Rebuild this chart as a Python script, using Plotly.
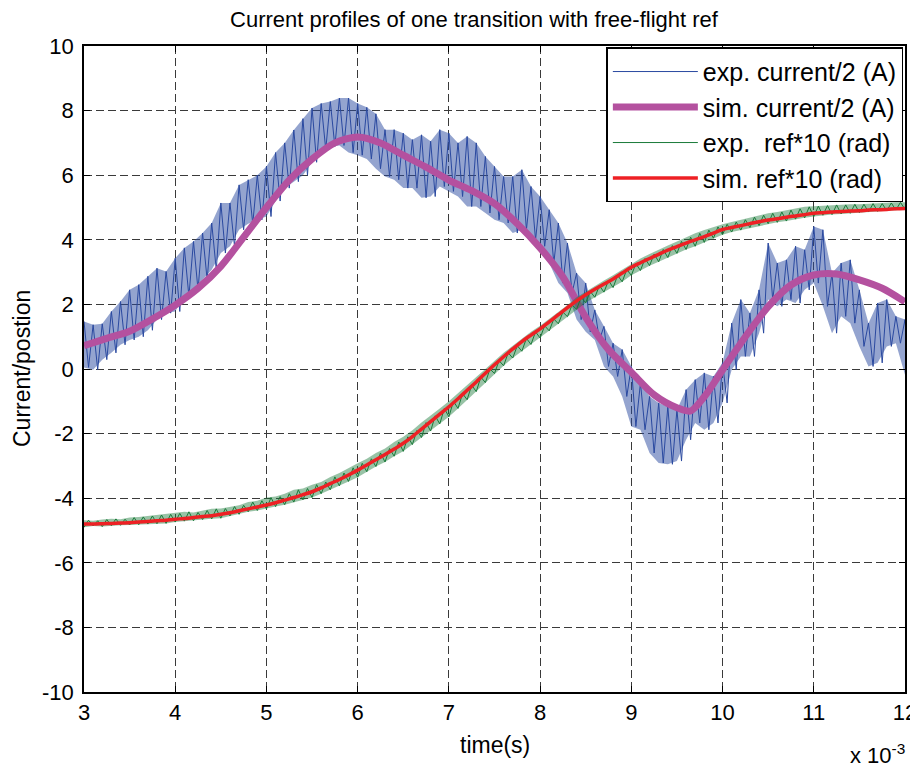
import plotly.graph_objects as go

# time grid in units of 1e-3 s
t_grid = [round(3.0 + 0.1 * i, 2) for i in range(91)]

exp_current_hi = [
    1.47, 1.37, 1.40, 1.78, 2.09, 2.45, 2.61, 2.87, 3.12, 3.02,
    3.43, 3.75, 3.95, 4.21, 4.52, 5.14, 5.14, 5.70, 5.86, 6.00,
    6.27, 6.70, 7.00, 7.40, 7.75, 8.08, 8.22, 8.28, 8.39, 8.39,
    8.22, 8.10, 7.90, 7.41, 7.41, 7.30, 7.10, 7.25, 7.05, 7.41,
    7.30, 7.00, 7.20, 7.00, 6.58, 6.27, 5.96, 5.96, 6.17, 5.65,
    5.34, 4.93, 4.52, 3.90, 2.97, 2.66, 1.83, 1.32, 0.80, 0.60,
    0.08, -0.43, -0.85, -1.05, -1.16, -1.26, -0.64, -0.33, -0.12, -0.23,
    0.20, 1.42, 2.15, 1.73, 2.45, 3.90, 3.28, 3.38, 3.80, 3.69,
    4.41, 4.31, 2.97, 3.28, 3.38, 2.45, 1.42, 2.04, 2.15, 1.63,
    1.53,
]
exp_current_lo = [
    0.05, -0.02, 0.29, 0.50, 0.75, 0.90, 1.00, 1.20, 1.53, 1.73,
    1.78, 2.25, 2.45, 2.76, 3.07, 3.59, 3.80, 4.31, 4.50, 4.62,
    4.72, 5.20, 5.60, 5.80, 6.00, 6.40, 6.80, 6.89, 6.92, 6.70,
    6.62, 6.50, 6.20, 5.96, 5.86, 5.60, 5.60, 5.30, 5.34, 5.65,
    5.50, 5.34, 5.03, 5.03, 4.83, 4.62, 4.52, 4.21, 4.31, 4.00,
    3.80, 3.28, 2.66, 2.35, 1.53, 1.15, 0.90, 0.08, -0.23, -0.85,
    -1.78, -1.88, -2.60, -2.91, -2.95, -2.85, -2.19, -1.67, -1.88, -1.67,
    -1.05, -0.02, 0.39, 0.39, 1.11, 2.15, 1.94, 2.15, 2.04, 2.45,
    2.66, 1.94, 1.11, 1.63, 1.42, 0.70, 0.08, 0.19, 0.70, 0.80,
    -0.18,
]

sim_t = [3.0, 3.25, 3.5, 3.75, 4.0, 4.25, 4.5, 4.75, 5.0, 5.25, 5.5, 5.75,
         6.0, 6.25, 6.5, 6.75, 7.0, 7.25, 7.5, 7.75, 8.0, 8.25, 8.5, 8.75,
         9.0, 9.25, 9.5, 9.65, 9.8, 10.0, 10.25, 10.5, 10.75, 11.0, 11.25,
         11.5, 11.75, 12.0]
sim_current = [0.72, 0.95, 1.17, 1.55, 1.98, 2.50, 3.18, 4.08, 5.00, 5.85,
               6.50, 7.00, 7.18, 7.00, 6.62, 6.25, 5.85, 5.52, 5.12, 4.50,
               3.75, 2.85, 1.60, 0.60, -0.10, -0.80, -1.20, -1.30, -0.86,
               -0.03, 1.00, 1.93, 2.60, 2.91, 2.94, 2.76, 2.50, 2.08]

sim_ref = [
    -4.80, -4.80, -4.79, -4.78, -4.77, -4.76, -4.74, -4.72, -4.70, -4.68,
    -4.65, -4.63, -4.60, -4.57, -4.54, -4.50, -4.45, -4.39, -4.33, -4.27,
    -4.21, -4.14, -4.06, -3.98, -3.89, -3.80, -3.68, -3.55, -3.42, -3.28,
    -3.13, -2.97, -2.81, -2.65, -2.48, -2.30, -2.09, -1.86, -1.63, -1.40,
    -1.17, -0.92, -0.66, -0.40, -0.13, 0.13, 0.38, 0.62, 0.85, 1.05,
    1.24, 1.46, 1.68, 1.90, 2.11, 2.30, 2.47, 2.63, 2.79, 2.97,
    3.15, 3.29, 3.42, 3.55, 3.68, 3.79, 3.90, 4.00, 4.10, 4.21,
    4.32, 4.38, 4.44, 4.50, 4.56, 4.61, 4.65, 4.70, 4.74, 4.78,
    4.82, 4.84, 4.86, 4.88, 4.89, 4.90, 4.92, 4.93, 4.94, 4.96,
    4.97,
]

exp_ref_hi = [
    -4.68, -4.70, -4.66, -4.64, -4.65, -4.60, -4.58, -4.55, -4.52, -4.50,
    -4.47, -4.42, -4.44, -4.38, -4.33, -4.32, -4.26, -4.22, -4.12, -4.08,
    -3.98, -3.95, -3.86, -3.74, -3.70, -3.58, -3.50, -3.34, -3.22, -3.06,
    -2.92, -2.78, -2.60, -2.46, -2.26, -2.10, -1.90, -1.66, -1.45, -1.22,
    -1.00, -0.76, -0.50, -0.25, 0.00, 0.26, 0.50, 0.72, 0.95, 1.15,
    1.34, 1.55, 1.76, 1.98, 2.22, 2.40, 2.58, 2.74, 2.90, 3.08,
    3.26, 3.42, 3.56, 3.70, 3.82, 3.95, 4.08, 4.20, 4.30, 4.40,
    4.48, 4.55, 4.62, 4.70, 4.76, 4.82, 4.86, 4.92, 4.96, 5.02,
    5.04, 5.06, 5.08, 5.08, 5.10, 5.10, 5.12, 5.12, 5.14, 5.16,
    5.16,
]
exp_ref_lo = [
    -4.90, -4.86, -4.88, -4.85, -4.84, -4.83, -4.82, -4.80, -4.79, -4.78,
    -4.74, -4.71, -4.70, -4.66, -4.64, -4.62, -4.55, -4.50, -4.42, -4.38,
    -4.33, -4.26, -4.20, -4.12, -4.05, -3.98, -3.86, -3.74, -3.62, -3.48,
    -3.35, -3.18, -3.02, -2.88, -2.70, -2.55, -2.34, -2.12, -1.92, -1.70,
    -1.48, -1.22, -0.95, -0.70, -0.42, -0.14, 0.10, 0.34, 0.55, 0.76,
    0.96, 1.18, 1.40, 1.62, 1.85, 2.05, 2.22, 2.38, 2.52, 2.70,
    2.90, 3.05, 3.20, 3.32, 3.45, 3.58, 3.70, 3.80, 3.92, 4.05,
    4.16, 4.24, 4.30, 4.38, 4.44, 4.50, 4.54, 4.58, 4.64, 4.68,
    4.72, 4.76, 4.78, 4.80, 4.82, 4.84, 4.86, 4.88, 4.90, 4.92,
    4.94,
]

x_ticks = [3, 4, 5, 6, 7, 8, 9, 10, 11, 12]
y_ticks = [-10, -8, -6, -4, -2, 0, 2, 4, 6, 8, 10]


def zigzag(ts, first, second, dt):
    xs, ys = [], []
    for t, a, b in zip(ts, first, second):
        xs += [t, t + dt]
        ys += [a, b]
    return xs, ys


FONT = "Liberation Sans, Arial, Helvetica, sans-serif"
BLUE = "#2a49a0"
GREEN = "#1a7a39"

fig = go.Figure()

# band shading of the fast oscillation (exp. current)
fig.add_trace(go.Scatter(x=t_grid, y=exp_current_lo, mode="lines", line=dict(width=0),
                         showlegend=False, hoverinfo="skip"))
fig.add_trace(go.Scatter(x=t_grid, y=exp_current_hi, mode="lines", line=dict(width=0),
                         fill="tonexty", fillcolor="rgba(42,73,160,0.50)",
                         showlegend=False, hoverinfo="skip"))
bx, by = zigzag(t_grid, exp_current_hi, exp_current_lo, 0.05)
fig.add_trace(go.Scatter(x=bx, y=by, mode="lines", name="exp. current/2 (A)",
                         line=dict(color=BLUE, width=1)))
fig.add_trace(go.Scatter(x=sim_t, y=sim_current, mode="lines",
                         name="sim. current/2 (A)",
                         line=dict(color="#b4519f", width=7, shape="spline", smoothing=0.8)))
fig.add_trace(go.Scatter(x=t_grid, y=exp_ref_lo, mode="lines", line=dict(width=0),
                         showlegend=False, hoverinfo="skip"))
fig.add_trace(go.Scatter(x=t_grid, y=exp_ref_hi, mode="lines", line=dict(width=0),
                         fill="tonexty", fillcolor="rgba(26,122,57,0.45)",
                         showlegend=False, hoverinfo="skip"))
gx, gy = zigzag(t_grid, exp_ref_lo, exp_ref_hi, 0.05)
fig.add_trace(go.Scatter(x=gx, y=gy, mode="lines", name="exp.  ref*10 (rad)",
                         line=dict(color=GREEN, width=1)))
fig.add_trace(go.Scatter(x=t_grid, y=sim_ref, mode="lines", name="sim. ref*10 (rad)",
                         line=dict(color="#ee2024", width=3.5, shape="spline")))

axis_common = dict(
    showline=True, linecolor="black", linewidth=1.5, mirror="ticks",
    ticks="inside", ticklen=6, tickcolor="black",
    showgrid=True, gridcolor="#3a3a3a", gridwidth=1, griddash="8px,4px",
    zeroline=False, tickfont=dict(family=FONT, size=22, color="black"),
)

fig.update_xaxes(range=[3, 12], tickvals=x_ticks, ticktext=[str(v) for v in x_ticks],
                 **axis_common)
fig.update_yaxes(range=[-10, 10], tickvals=y_ticks, ticktext=[str(v) for v in y_ticks],
                 ticklabelstandoff=4, **axis_common)

W, H = 910, 761
fig.update_layout(
    width=W, height=H,
    margin=dict(l=76, r=13, t=38, b=77, autoexpand=False),
    paper_bgcolor="white", plot_bgcolor="white",
    font=dict(family=FONT, color="black"),
    showlegend=True,
    title=dict(text="Current profiles of one transition with free-flight ref",
               x=0.475, xref="paper", xanchor="center",
               y=1 - 11 / H, yref="container", yanchor="middle",
               font=dict(family=FONT, size=22, color="black")),
    legend=dict(x=0.998, y=0.998, xanchor="right", yanchor="top",
                bgcolor="white", bordercolor="black", borderwidth=1.5,
                font=dict(family=FONT, size=25, color="black"),
                itemwidth=85, tracegroupgap=0, traceorder="normal"),
    annotations=[
        dict(text="time(s)", xref="paper", yref="paper", x=0.5, y=0,
             xanchor="center", yanchor="middle", yshift=-53,
             showarrow=False, font=dict(family=FONT, size=23)),
        dict(text="Current/postion", xref="paper", yref="paper", x=0, y=0.5,
             xanchor="center", yanchor="middle", xshift=-62,
             textangle=-90, showarrow=False, font=dict(family=FONT, size=23)),
        dict(text="x 10<sup>-3</sup>", xref="paper", yref="paper", x=1.0, y=0,
             xanchor="right", yanchor="middle", yshift=-62, xshift=2,
             showarrow=False, font=dict(family=FONT, size=22)),
    ],
)

fig.write_html("out.html")
